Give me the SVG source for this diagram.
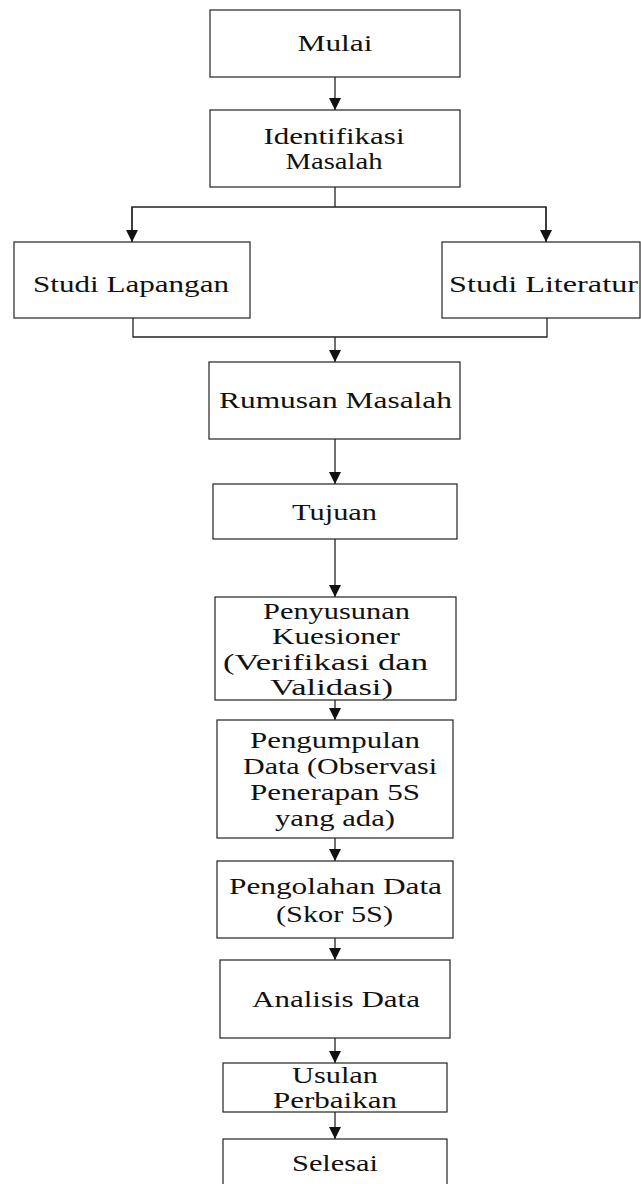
<svg xmlns="http://www.w3.org/2000/svg" width="641" height="1184" viewBox="0 0 641 1184">
<style>
.box{fill:#fff;stroke:#222;stroke-width:1.2}
.t{font-family:"Liberation Serif","Times New Roman",serif;font-size:24px;fill:#111;text-anchor:middle}
.c{fill:none;stroke:#222;stroke-width:1.3}
</style>
<defs>
<marker id="ah" markerUnits="userSpaceOnUse" markerWidth="12" markerHeight="12" refX="6" refY="12" orient="0" viewBox="0 0 12 12">
<path d="M0,0 L12,0 L6,12 Z" fill="#111"/>
</marker>
</defs>
<rect width="641" height="1184" fill="#fff"/>
<g id="connectors">
<line class="c" x1="335" y1="77" x2="335" y2="110" marker-end="url(#ah)"/>
<polyline class="c" points="335,187 335,207"/>
<polyline class="c" points="132,242 132,207 546,207 546,242"/>
<line class="c" x1="132" y1="207" x2="132" y2="242" marker-end="url(#ah)"/>
<line class="c" x1="546" y1="207" x2="546" y2="242" marker-end="url(#ah)"/>
<polyline class="c" points="133,318 133,337 547,337 547,318"/>
<line class="c" x1="335" y1="337" x2="335" y2="362" marker-end="url(#ah)"/>
<line class="c" x1="335" y1="439" x2="335" y2="484" marker-end="url(#ah)"/>
<line class="c" x1="335" y1="539" x2="335" y2="597" marker-end="url(#ah)"/>
<line class="c" x1="335" y1="700" x2="335" y2="720" marker-end="url(#ah)"/>
<line class="c" x1="335" y1="838" x2="335" y2="861" marker-end="url(#ah)"/>
<line class="c" x1="335" y1="938" x2="335" y2="960" marker-end="url(#ah)"/>
<line class="c" x1="335" y1="1038" x2="335" y2="1063" marker-end="url(#ah)"/>
<line class="c" x1="335" y1="1112" x2="335" y2="1139" marker-end="url(#ah)"/>
</g>
<g id="mulai">
<rect class="box" x="210" y="10" width="250" height="67"/>
<text class="t" x="335" y="51" textLength="75" lengthAdjust="spacingAndGlyphs">Mulai</text>
</g>
<g id="identifikasi">
<rect class="box" x="210" y="110" width="250" height="77"/>
<text class="t" x="334" y="144" textLength="141" lengthAdjust="spacingAndGlyphs">Identifikasi</text>
<text class="t" x="334" y="169" textLength="97" lengthAdjust="spacingAndGlyphs">Masalah</text>
</g>
<g id="studi-lapangan">
<rect class="box" x="14" y="242" width="236" height="76"/>
<text class="t" x="131" y="292" textLength="196" lengthAdjust="spacingAndGlyphs">Studi Lapangan</text>
</g>
<g id="studi-literatur">
<rect class="box" x="442" y="242" width="198" height="76"/>
<text class="t" x="543.5" y="292" textLength="189" lengthAdjust="spacingAndGlyphs">Studi Literatur</text>
</g>
<g id="rumusan">
<rect class="box" x="209" y="362" width="251" height="77"/>
<text class="t" x="335.5" y="408" textLength="233" lengthAdjust="spacingAndGlyphs">Rumusan Masalah</text>
</g>
<g id="tujuan">
<rect class="box" x="213" y="484" width="244" height="55"/>
<text class="t" x="334.5" y="520" textLength="85" lengthAdjust="spacingAndGlyphs">Tujuan</text>
</g>
<g id="penyusunan">
<rect class="box" x="215" y="597" width="241" height="103"/>
<text class="t" x="336.5" y="619" textLength="147" lengthAdjust="spacingAndGlyphs">Penyusunan</text>
<text class="t" x="336" y="644" textLength="128" lengthAdjust="spacingAndGlyphs">Kuesioner</text>
<text class="t" x="325.5" y="670" textLength="205" lengthAdjust="spacingAndGlyphs">(Verifikasi dan</text>
<text class="t" x="331.5" y="695" textLength="123" lengthAdjust="spacingAndGlyphs">Validasi)</text>
</g>
<g id="pengumpulan">
<rect class="box" x="217" y="720" width="236" height="118"/>
<text class="t" x="335" y="748" textLength="170" lengthAdjust="spacingAndGlyphs">Pengumpulan</text>
<text class="t" x="340" y="774" textLength="194" lengthAdjust="spacingAndGlyphs">Data (Observasi</text>
<text class="t" x="335" y="800" textLength="170" lengthAdjust="spacingAndGlyphs">Penerapan 5S</text>
<text class="t" x="335" y="826" textLength="120" lengthAdjust="spacingAndGlyphs">yang ada)</text>
</g>
<g id="pengolahan">
<rect class="box" x="217" y="861" width="236" height="77"/>
<text class="t" x="335.5" y="894" textLength="213" lengthAdjust="spacingAndGlyphs">Pengolahan Data</text>
<text class="t" x="334.5" y="922" textLength="117" lengthAdjust="spacingAndGlyphs">(Skor 5S)</text>
</g>
<g id="analisis">
<rect class="box" x="220" y="960" width="230" height="78"/>
<text class="t" x="336" y="1007" textLength="168" lengthAdjust="spacingAndGlyphs">Analisis Data</text>
</g>
<g id="usulan">
<rect class="box" x="223" y="1063" width="224" height="49"/>
<text class="t" x="335" y="1083" textLength="86" lengthAdjust="spacingAndGlyphs">Usulan</text>
<text class="t" x="335" y="1108" textLength="124" lengthAdjust="spacingAndGlyphs">Perbaikan</text>
</g>
<g id="selesai">
<rect class="box" x="223" y="1139" width="224" height="55"/>
<text class="t" x="335" y="1171" textLength="86" lengthAdjust="spacingAndGlyphs">Selesai</text>
</g>
</svg>
